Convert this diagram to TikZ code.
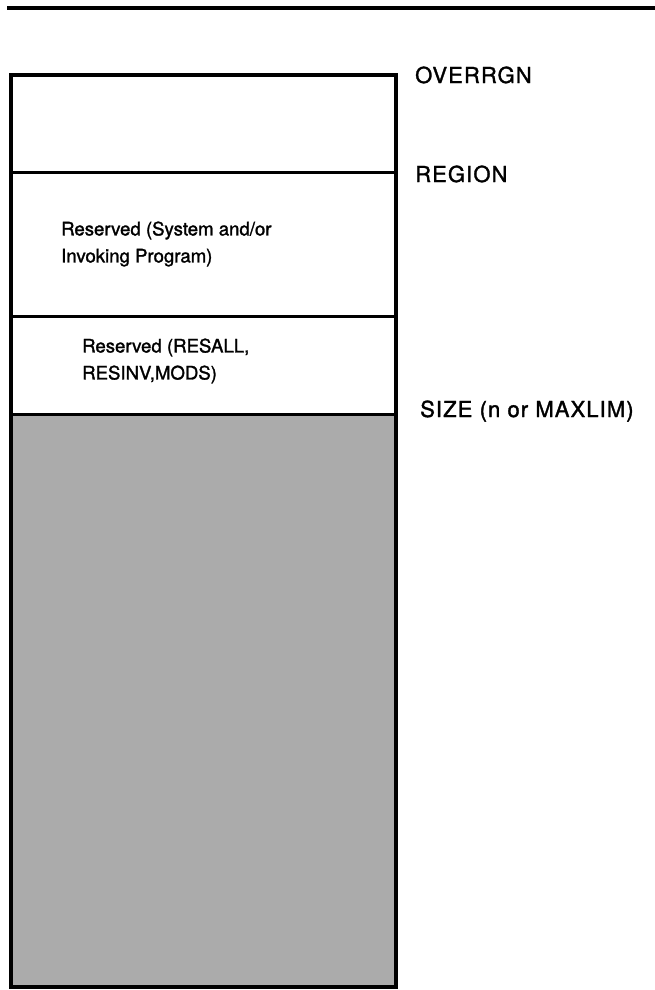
\documentclass[tikz,border=0pt]{standalone}
\usepackage{fontspec}
\setmainfont{TeX Gyre Heros}[FakeBold=1.5]
\newfontfamily\mapfont{TeX Gyre Heros}[FakeBold=1.5,LetterSpace=5]
\usetikzlibrary{positioning}

\begin{document}
\begin{tikzpicture}[
    x=1pt, y=-1pt,
    node distance=0pt,
    part/.style={draw,line width=3pt,minimum width=385pt,outer sep=0pt,inner sep=0pt},
    inbox/.style={align=left,inner sep=0pt,font=\fontsize{18.6}{27}\selectfont},
    mark label/.style={anchor=base west,inner sep=0pt,font=\mapfont\fontsize{22}{26}\selectfont}
]
\useasboundingbox (0,0) rectangle (655,990);

% rule across the top of the page
\coordinate (rule w) at (7,8);
\coordinate (rule e) at (655,8);
\draw[line width=4pt] (rule w) -- (rule e);

% storage map, top to bottom
\node[part,minimum height=97pt,anchor=north west] (ovr) at (11,75) {};
\node[part,minimum height=144pt,below=of ovr] (sysres) {};
\node[part,minimum height=98pt,below=of sysres] (modres) {};
\node[part,minimum height=573pt,below=of modres,fill=black!33] (free) {};
\draw[line width=4.5pt] (ovr.north west) rectangle (free.south east);

\node[inbox,anchor=west] (sysres text) at (61,244) {Reserved (System and/or\\Invoking Program)};
\node[inbox,anchor=west] (modres text) at (82,361) {Reserved (RESALL,\\RESINV,MODS)};

% boundary names
\node[mark label] (overrgn) at (415,83) {OVERRGN};
\node[mark label] (region) at (415,182) {REGION};
\node[mark label] (size) at (420,417) {SIZE (n or MAXLIM)};
\end{tikzpicture}
\end{document}
